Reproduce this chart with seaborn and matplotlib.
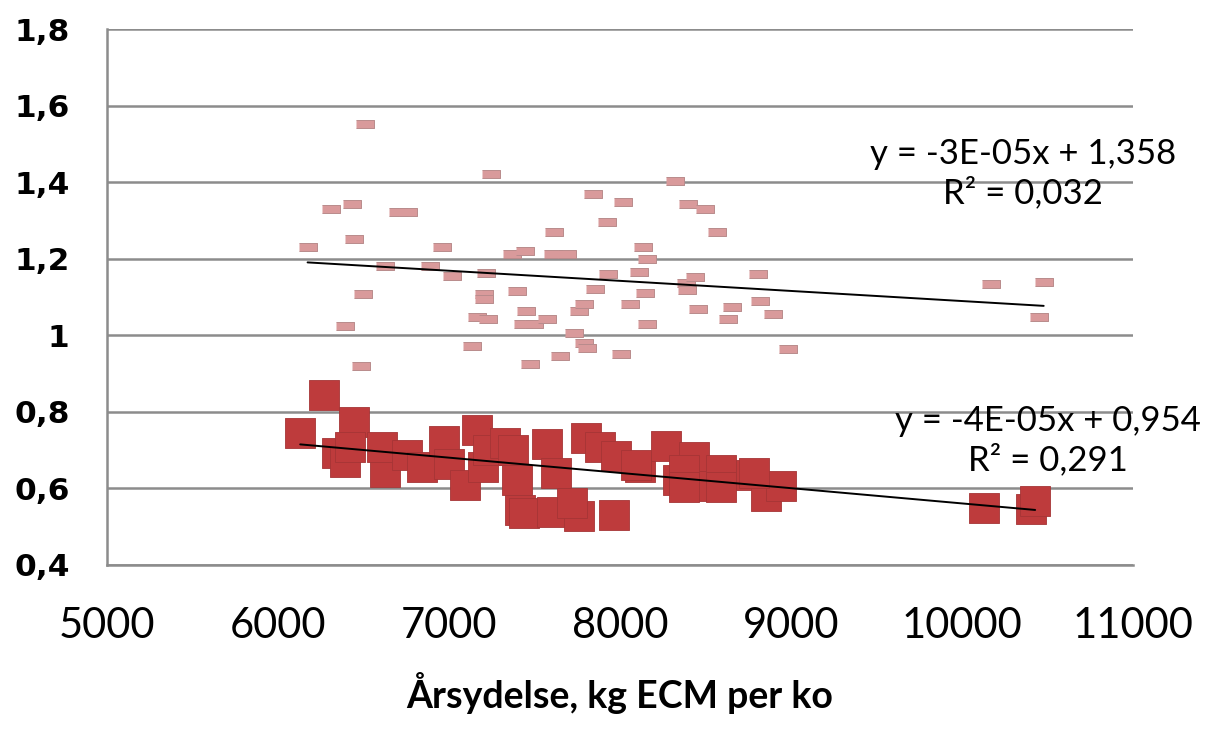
import numpy as np
import pandas as pd
import matplotlib
matplotlib.use("Agg")
import matplotlib.pyplot as plt
import seaborn as sns

# ---- data ----
upper_x = [6173, 6310, 6434, 6442, 6393, 6500, 6506, 6487, 6623, 6700, 6760, 6891,
           6961, 7018, 7135, 7165, 7203, 7207, 7214, 7227, 7246, 7369, 7398, 7430,
           7443, 7449, 7472, 7500, 7573, 7617, 7610, 7652, 7690, 7734, 7760, 7789,
           7789, 7808, 7842, 7855, 7924, 7930, 8004, 8018, 8056, 8112, 8133, 8147,
           8156, 8160, 8320, 8384, 8390, 8399, 8437, 8456, 8495, 8566, 8632, 8653,
           8808, 8816, 8896, 8984, 10170, 10478, 10451]
upper_y = [1.231, 1.329, 1.342, 1.251, 1.023, 1.109, 1.551, 0.920, 1.182, 1.323, 1.323, 1.182,
           1.231, 1.155, 0.971, 1.049, 1.108, 1.096, 1.162, 1.043, 1.421, 1.212, 1.115, 1.030,
           1.219, 1.063, 0.925, 1.030, 1.043, 1.271, 1.212, 0.945, 1.212, 1.005, 1.063, 1.082,
           0.979, 0.966, 1.368, 1.121, 1.297, 1.159, 0.951, 1.349, 1.083, 1.166, 1.231, 1.110,
           1.199, 1.030, 1.402, 1.137, 1.118, 1.342, 1.153, 1.069, 1.329, 1.271, 1.043, 1.075,
           1.160, 1.089, 1.056, 0.964, 1.134, 1.140, 1.049]

lower_x = [6130, 6270, 6446, 6345, 6393, 6423, 6628, 6608, 6753, 6841, 6969, 7000,
           7164, 7094, 7196, 7230, 7330, 7377, 7399, 7418, 7441, 7574, 7623, 7604,
           7763, 7799, 7720, 7886, 7974, 8115, 7964, 8271, 8339, 8433, 8431, 8589,
           8589, 8765, 8852, 8940, 8091, 8375, 8375, 8782, 10127, 10404, 10428]
lower_y = [0.746, 0.844, 0.773, 0.693, 0.670, 0.709, 0.644, 0.709, 0.688, 0.657, 0.725, 0.665,
           0.753, 0.610, 0.657, 0.700, 0.718, 0.701, 0.622, 0.544, 0.537, 0.717, 0.640, 0.539,
           0.529, 0.732, 0.563, 0.708, 0.684, 0.657, 0.531, 0.711, 0.622, 0.681, 0.606, 0.648,
           0.605, 0.635, 0.580, 0.606, 0.661, 0.648, 0.605, 0.640, 0.548, 0.546, 0.566]

x_ticks = [5000, 6000, 7000, 8000, 9000, 10000, 11000]
y_ticks = [0.4, 0.6, 0.8, 1.0, 1.2, 1.4, 1.6, 1.8]
y_tick_labels = ["0,4", "0,6", "0,8", "1", "1,2", "1,4", "1,6", "1,8"]
x_label = "Årsydelse, kg ECM per ko"
upper_eq = "y = -3E-05x + 1,358\nR² = 0,032"
lower_eq = "y = -4E-05x + 0,954\nR² = 0,291"

upper = pd.DataFrame({"x": upper_x, "y": upper_y})
lower = pd.DataFrame({"x": lower_x, "y": lower_y})

sns.set_style("white")
plt.rcParams["font.family"] = ["Lato", "DejaVu Sans"]
plt.rcParams["text.color"] = "black"
plt.rcParams["xtick.labelcolor"] = "black"
plt.rcParams["ytick.labelcolor"] = "black"
plt.rcParams["axes.labelcolor"] = "black"

fig = plt.figure(figsize=(12.16, 7.35), dpi=100)
ax = fig.add_axes([0.088, 0.2313, 0.8437, 0.7292])

grid_c = "#8c8c8c"
for yv in y_ticks:
    ax.axhline(yv, color=grid_c, lw=1.8, zorder=0)

dash_marker = [(-1, -0.42), (1, -0.42), (1, 0.42), (-1, 0.42)]
sns.scatterplot(data=upper, x="x", y="y", ax=ax, marker=dash_marker, s=150,
                color="#D99A9B", edgecolor="#B98B8C", linewidth=0.7, zorder=3)
sns.scatterplot(data=lower, x="x", y="y", ax=ax, marker="s", s=450,
                color="#BE3B3C", edgecolor="#A53536", linewidth=0.6, zorder=4)

sns.regplot(data=upper, x="x", y="y", ax=ax, scatter=False, ci=None, truncate=True,
            line_kws=dict(color="black", lw=1.4, zorder=5))
sns.regplot(data=lower, x="x", y="y", ax=ax, scatter=False, ci=None, truncate=True,
            line_kws=dict(color="black", lw=1.4, zorder=5))

ax.text(10356, 1.422, upper_eq, ha="center", va="center", fontsize=25,
        linespacing=1.22, color="black", zorder=6)
ax.text(10503, 0.725, lower_eq, ha="center", va="center", fontsize=25,
        linespacing=1.22, color="black", zorder=6)

ax.set_xlim(5000, 11000)
ax.set_ylim(0.4, 1.8)
ax.set_xticks(x_ticks)
ax.set_xticklabels([str(v) for v in x_ticks], fontsize=30)
ax.set_yticks(y_ticks)
ax.set_yticklabels(y_tick_labels, fontsize=22.5, fontweight="bold", family="DejaVu Sans")
ax.tick_params(axis="x", length=8, width=1.5, color=grid_c, pad=22, direction="out")
ax.tick_params(axis="y", length=10, width=1.5, color=grid_c, pad=17, direction="out")
ax.set_xlabel(x_label, fontsize=27, fontweight="bold", labelpad=20)
ax.set_ylabel("")

for side in ["top", "right"]:
    ax.spines[side].set_visible(False)
for side in ["left", "bottom"]:
    ax.spines[side].set_color(grid_c)
    ax.spines[side].set_linewidth(1.8)

fig.savefig("out.png", dpi=100, facecolor="white")
